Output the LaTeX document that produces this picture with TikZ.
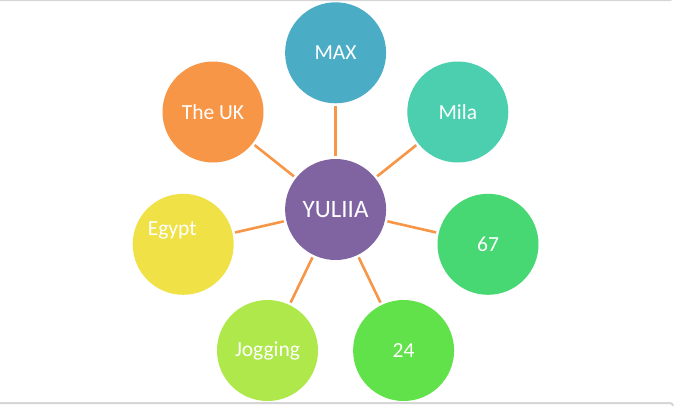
\documentclass[tikz,border=0pt]{standalone}
\usepackage{fontspec}
\setmainfont{Carlito}
\definecolor{cmax}{HTML}{4BACC6}
\definecolor{cuk}{HTML}{F79646}
\definecolor{cmila}{HTML}{4BCFAF}
\definecolor{cegypt}{HTML}{F0E147}
\definecolor{csixty}{HTML}{47D874}
\definecolor{cjog}{HTML}{AEE84A}
\definecolor{ctwenty}{HTML}{62E24A}
\definecolor{cyul}{HTML}{8064A2}
\definecolor{cline}{HTML}{F79646}
\definecolor{cframe}{HTML}{D6D6D6}
\begin{document}
\begin{tikzpicture}[x=1pt,y=-1pt,
  bubble/.style={circle,minimum size=101pt,inner sep=0pt,text=white,font=\fontsize{21.5}{24}\selectfont},
  hub/.style={bubble,font=\fontsize{25}{28}\selectfont},
  spoke/.style={draw=cline,line width=2.6pt,shorten <=2.5pt,shorten >=2.5pt}]
\useasboundingbox (0,0) rectangle (675,405);
\fill[white] (0,0) rectangle (675,405);
\draw[cframe,line width=1pt] (0,0.5) -- (670,0.5) arc[start angle=90,end angle=0,radius=3] ;
\draw[cframe,line width=2pt] (0,403) -- (670,403) arc[start angle=270,end angle=360,radius=3];
\node[hub,fill=cyul] (yul) at (335.6,209.5) {YULIIA};
\node[bubble,fill=cmax] (max) at (335.6,52.8) {MAX};
\node[bubble,fill=cuk] (uk) at (213,112) {The UK};
\node[bubble,fill=cmila] (mila) at (457.8,112) {Mila};
\node[bubble,fill=cegypt,label={[text=white,font=\fontsize{21.5}{24}\selectfont,xshift=-11pt,yshift=14pt]center:Egypt}] (egypt) at (183.2,244.3) {};
\node[bubble,fill=csixty] (sixty) at (488,244.3) {67};
\node[bubble,fill=cjog] (jog) at (267.5,350.5) {Jogging};
\node[bubble,fill=ctwenty] (twenty) at (403.6,350.5) {24};
\foreach \n in {max,uk,mila,egypt,sixty,jog,twenty}
  \draw[spoke] (yul) -- (\n);
\end{tikzpicture}
\end{document}
